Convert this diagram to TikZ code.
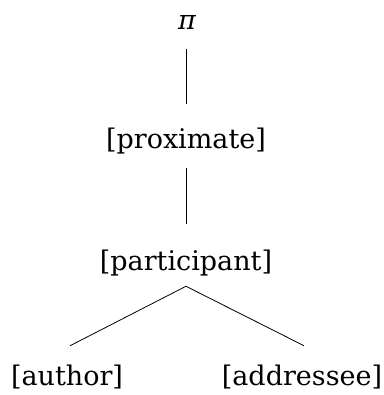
\documentclass[tikz,border=0pt]{standalone}
\usepackage{fontspec}
\setmainfont{DejaVu Serif}
\begin{document}
\begin{tikzpicture}[x=1pt,y=-1pt,
  lbl/.style={inner sep=0pt,font=\fontsize{27}{30}\selectfont},
  edge/.style={line width=0.8pt}]
\useasboundingbox (0,0) rectangle (383,395);
\node[lbl] (pi) at (187,22.5) {\itshape π};
\node[lbl] (prox) at (186,141) {[proximate]};
\node[lbl] (part) at (186,263) {[participant]};
\node[lbl] (auth) at (67,377) {[author]};
\node[lbl] (addr) at (302,377) {[addressee]};
\draw[edge] ([yshift=-19pt]pi.south -| prox.center) -- ([yshift=24pt]prox.north);
\draw[edge] ([yshift=-14pt]prox.south) -- ([yshift=26pt]part.north);
\coordinate (apex) at ([yshift=-10pt]part.south);
\draw[edge] ([xshift=3pt,yshift=19pt]auth.north) -- (apex) -- ([xshift=2pt,yshift=19pt]addr.north);
\end{tikzpicture}
\end{document}
